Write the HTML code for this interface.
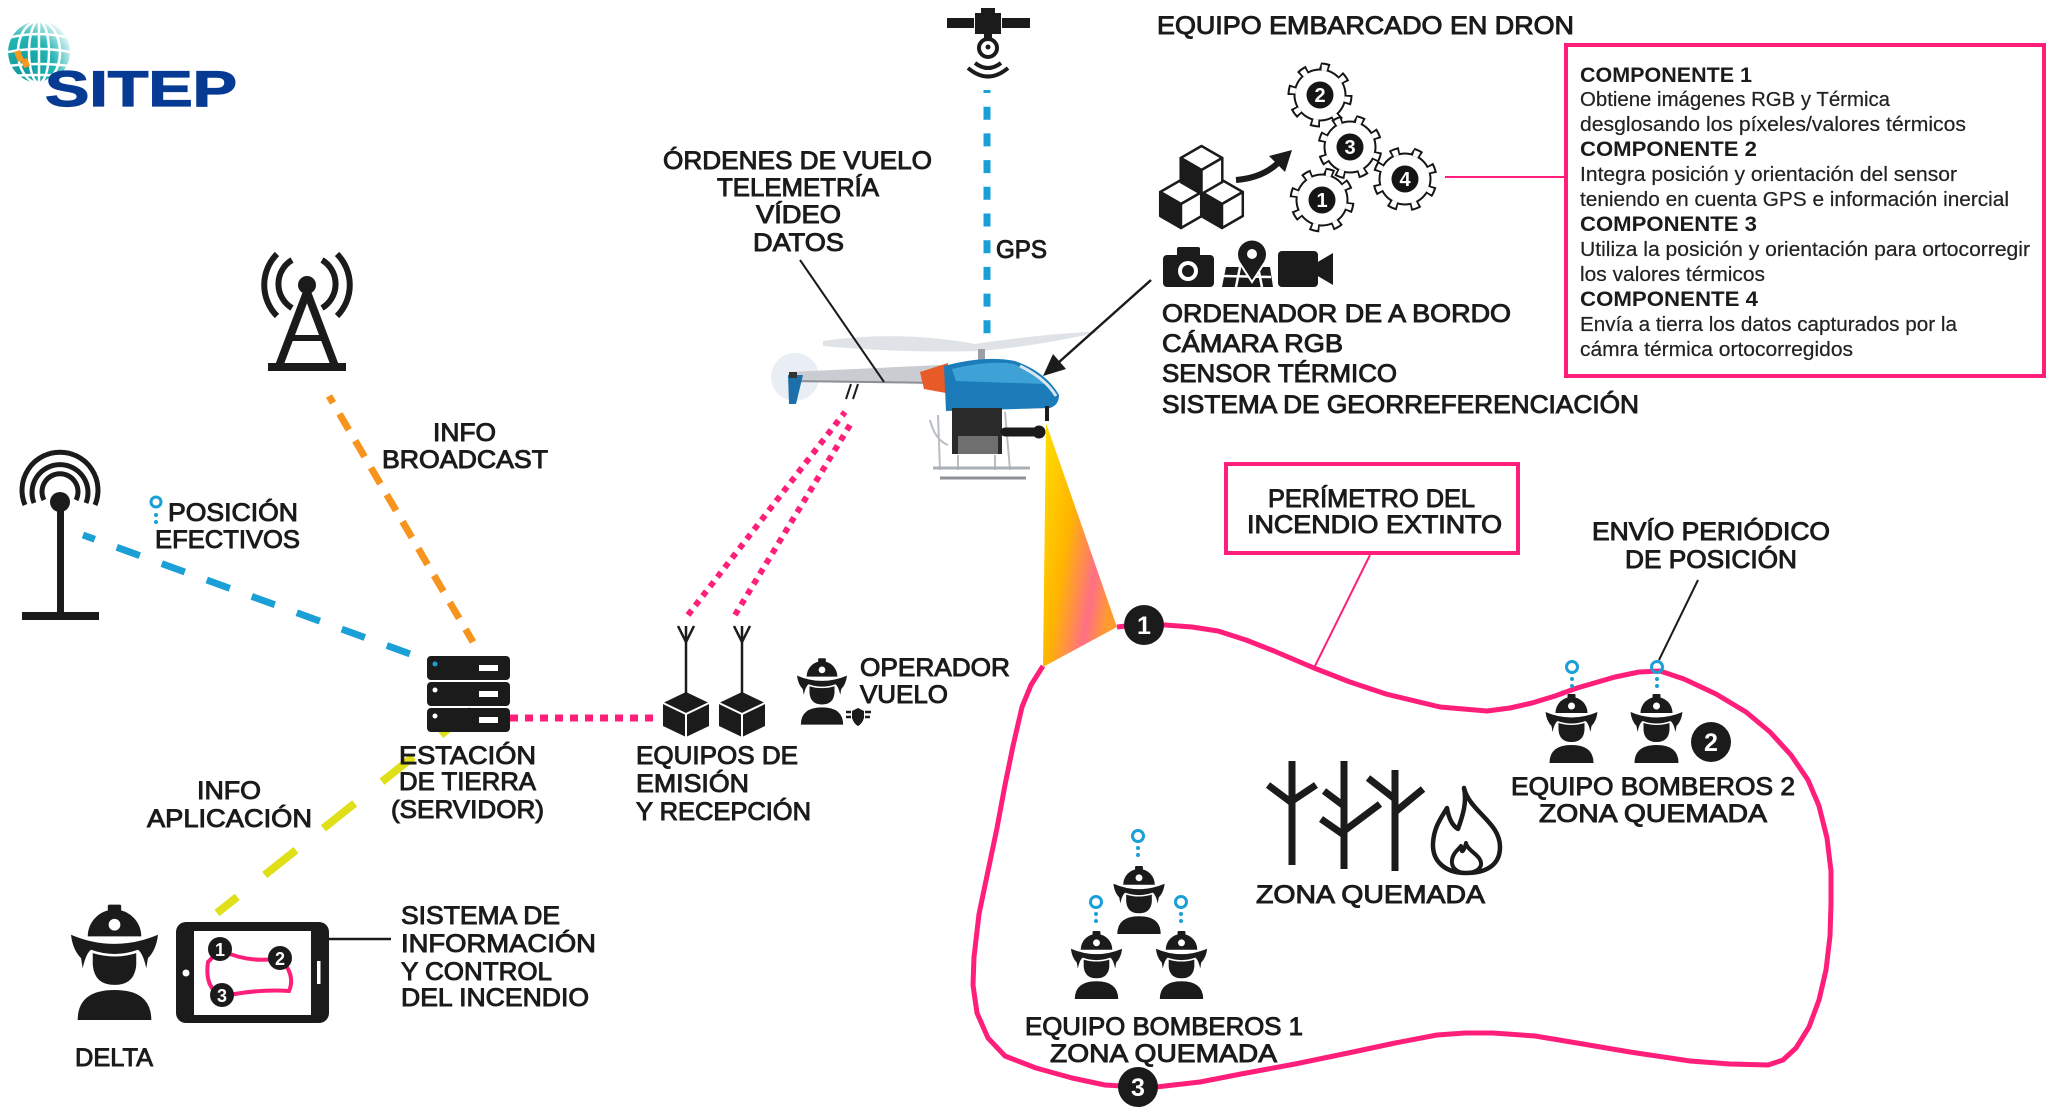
<!DOCTYPE html>
<html><head><meta charset="utf-8"><style>
html,body{margin:0;padding:0;background:#fff;}
svg{display:block;}
.t{font-family:"Liberation Sans",sans-serif;font-size:25px;fill:#1b1b1b;stroke:#1b1b1b;stroke-width:0.95px;}
.b{font-family:"Liberation Sans",sans-serif;font-size:20px;fill:#222;stroke:#222;stroke-width:0.2px;}
.h{font-family:"Liberation Sans",sans-serif;font-size:21px;font-weight:bold;fill:#1b1b1b;}
.n{font-family:"Liberation Sans",sans-serif;font-weight:bold;fill:#fff;text-anchor:middle;}
</style></head><body>
<svg width="2048" height="1116" viewBox="0 0 2048 1116" xmlns="http://www.w3.org/2000/svg">
<defs>
 <symbol id="ff" viewBox="0 0 52 70">
  <g fill="#1b1b1b">
  <rect x="22" y="1" width="8" height="5" rx="1"/>
  <path d="M10 20 A16 16 0 0 1 42 20 Z"/>
  <path d="M0 19 Q26 30 52 19 Q51 28 46 33 L45 39 Q43 30 40 28 Q26 33 12 28 Q9 30 7 39 L6 33 Q1 28 0 19 Z"/>
  <path d="M13 30 Q26 34 39 30 L39 37 Q38 49 26 49 Q14 49 13 37 Z"/>
  <path d="M4 70 Q4 52 26 52 Q48 52 48 70 Z"/>
  </g>
  <circle cx="26" cy="13" r="3.5" fill="#fff"/>
 </symbol>
 <g id="gear">
  <circle r="26.5" fill="#151515"/>
  <circle r="29" fill="none" stroke="#151515" stroke-width="7" pathLength="80" stroke-dasharray="4.2 5.8"/>
  <circle r="24.5" fill="#fff"/>
  <circle r="27.5" fill="none" stroke="#fff" stroke-width="6" pathLength="80" stroke-dasharray="2.6 7.4" stroke-dashoffset="-0.8"/>
 </g>
 <g id="pin">
  <circle cx="0" cy="0" r="5.5" fill="none" stroke="#1a9fd6" stroke-width="3"/>
  <circle cx="0" cy="12" r="2" fill="#1a9fd6"/>
  <circle cx="0" cy="19" r="2" fill="#1a9fd6"/>
 </g>
 <linearGradient id="cone" x1="0" y1="0" x2="1" y2="0.55">
  <stop offset="0" stop-color="#ffe000"/>
  <stop offset="0.45" stop-color="#ffb400"/>
  <stop offset="0.8" stop-color="#ff6f86"/>
  <stop offset="1" stop-color="#ff9a30"/>
 </linearGradient>
 <radialGradient id="gg" cx="0.25" cy="0.75" r="0.9">
  <stop offset="0" stop-color="#0f9a9c"/>
  <stop offset="0.55" stop-color="#24b5b5"/>
  <stop offset="1" stop-color="#ffffff"/>
 </radialGradient>
 <clipPath id="gc"><circle cx="39" cy="52" r="31"/></clipPath>
</defs>

<!-- LOGO -->
<g clip-path="url(#gc)">
 <circle cx="39" cy="52" r="31" fill="url(#gg)"/>
 <g fill="none" stroke="#fff" stroke-width="2.5">
  <ellipse cx="39" cy="52" rx="10" ry="31"/>
  <ellipse cx="39" cy="52" rx="21" ry="31"/>
  <line x1="39" y1="20" x2="39" y2="84"/>
  <path d="M8 38 Q39 30 70 38"/>
  <path d="M8 52 Q39 46 70 52"/>
  <path d="M8 66 Q39 62 70 66"/>
  <path d="M10 76 Q39 74 68 76"/>
 </g>
 <path d="M14 52 L20 50 L24 60 L18 62 Z" fill="#f39a1f"/>
 <path d="M21 60 L27 58 L30 66 L24 68 Z" fill="#f39a1f"/>
</g>
<text x="45" y="106" font-family="Liberation Sans, sans-serif" font-weight="bold" font-size="50" fill="#063a93" stroke="#063a93" stroke-width="1.2" textLength="192" lengthAdjust="spacingAndGlyphs">SITEP</text>

<!-- TOP TOWER -->
<g stroke="#1b1b1b" fill="none" stroke-width="6">
 <path d="M307 292 L279 366 M307 292 L335 366" stroke-width="8"/>
 <line x1="289" y1="338" x2="325" y2="338" stroke-width="6"/>
 <path d="M292 260 A28 28 0 0 0 292 308"/>
 <path d="M322 260 A28 28 0 0 1 322 308"/>
 <path d="M277 254 A44 44 0 0 0 277 316"/>
 <path d="M337 254 A44 44 0 0 1 337 316"/>
</g>
<circle cx="307" cy="285" r="9" fill="#1b1b1b"/>
<rect x="268" y="363" width="78" height="8" fill="#1b1b1b"/>

<!-- LEFT ANTENNA -->
<g stroke="#1b1b1b" fill="none" stroke-width="5">
 <path d="M25 505 A38 38 0 1 1 95 505"/>
 <path d="M34 503 A28 28 0 1 1 86 503"/>
 <path d="M44 500 A18 18 0 1 1 76 500"/>
</g>
<circle cx="60" cy="502" r="10" fill="#1b1b1b"/>
<rect x="57" y="502" width="7" height="112" fill="#1b1b1b"/>
<rect x="22" y="612" width="77" height="8" fill="#1b1b1b"/>

<!-- CONNECTORS -->
<path d="M83 535 L413 655" stroke="#1a9fd6" stroke-width="7" stroke-dasharray="24.5 23.4" stroke-dashoffset="12" fill="none"/>
<path d="M329 396 L473 642" stroke="#f7941d" stroke-width="7" stroke-dasharray="18.5 12.7" stroke-dashoffset="10.5" fill="none"/>
<path d="M472 710 L217 913" stroke="#dfe01a" stroke-width="8" stroke-dasharray="40 35" fill="none"/>
<path d="M510 718 L656 718" stroke="#ff1f7a" stroke-width="7" stroke-dasharray="8 7" fill="none"/>
<path d="M688 615 L845 412" stroke="#ff1f7a" stroke-width="6" stroke-dasharray="6 6" fill="none"/>
<path d="M735 615 L850 425" stroke="#ff1f7a" stroke-width="6" stroke-dasharray="6 6" fill="none"/>
<path d="M987 90 L987 340" stroke="#1a9fd6" stroke-width="7" stroke-dasharray="13 13.7" stroke-dashoffset="10" fill="none"/>

<!-- SERVER -->
<g fill="#1b1b1b">
 <rect x="427" y="656" width="83" height="24" rx="4"/>
 <rect x="427" y="682" width="83" height="24" rx="4"/>
 <rect x="427" y="708" width="83" height="24" rx="4"/>
</g>
<g fill="#fff">
 <rect x="479" y="665" width="19" height="6"/>
 <rect x="479" y="691" width="19" height="6"/>
 <rect x="479" y="717" width="19" height="6"/>
 <circle cx="435" cy="690" r="2.5"/>
 <circle cx="435" cy="716" r="2.5"/>
</g>
<circle cx="435" cy="664" r="2.5" fill="#1a9fd6"/>

<!-- ANTENNA CUBES -->
<g>
 <line x1="686" y1="626" x2="686" y2="694" stroke="#1b1b1b" stroke-width="2.5"/>
 <path d="M678 626 L686 642 L694 626" stroke="#1b1b1b" stroke-width="2.5" fill="none"/>
 <path d="M686 692 L709 703 L709 726 L686 737 L663 726 L663 703 Z" fill="#1b1b1b"/>
 <path d="M663 703 L686 714 L709 703 M686 714 L686 737" stroke="#fff" stroke-width="2" fill="none"/>
 <line x1="742" y1="626" x2="742" y2="694" stroke="#1b1b1b" stroke-width="2.5"/>
 <path d="M734 626 L742 642 L750 626" stroke="#1b1b1b" stroke-width="2.5" fill="none"/>
 <path d="M742 692 L765 703 L765 726 L742 737 L719 726 L719 703 Z" fill="#1b1b1b"/>
 <path d="M719 703 L742 714 L765 703 M742 714 L742 737" stroke="#fff" stroke-width="2" fill="none"/>
</g>

<!-- OPERATOR -->
<use href="#ff" x="797" y="657" width="50" height="68"/>
<path d="M852 711 L858 708 L864 711 L864 718 Q862 724 858 726 Q854 724 852 718 Z" fill="#1b1b1b"/>
<path d="M846 712 L851 712 M846 717 L851 717 M865 712 L871 712 M865 717 L870 717" stroke="#1b1b1b" stroke-width="2.5"/>

<!-- SATELLITE -->
<g fill="#1b1b1b">
 <rect x="981" y="8" width="14" height="6"/>
 <rect x="975" y="13" width="26" height="21"/>
 <rect x="947" y="18" width="27" height="10"/>
 <rect x="1002" y="18" width="28" height="10"/>
 <rect x="984" y="33" width="8" height="5"/>
</g>
<circle cx="988" cy="48" r="9" fill="none" stroke="#1b1b1b" stroke-width="4"/>
<circle cx="988" cy="47" r="2.5" fill="#1b1b1b"/>
<path d="M975 63 Q988 73 1001 63 M968 68 Q988 85 1008 68" stroke="#1b1b1b" stroke-width="4" fill="none"/>

<!-- HELICOPTER -->
<g>
 <path d="M823 341 Q900 330 975 344 Q1040 334 1103 331 Q1040 346 980 351 Q900 353 823 346 Z" fill="#dfe3e8"/>
 <circle cx="795" cy="377" r="24" fill="#e9eef4"/>
 <path d="M790 372 L940 365 L944 384 L790 382 Z" fill="#c9ccd1"/>
 <path d="M790 381 L944 383" stroke="#8c9096" stroke-width="2"/>
 <path d="M788 375 L803 375 L796 404 L789 404 Z" fill="#1c6fa8"/>
 <rect x="789" y="372" width="8" height="6" fill="#333"/>
 <rect x="978" y="349" width="7" height="16" fill="#9aa0a6"/>
 <path d="M920 372 L948 363 L946 393 L924 389 Z" fill="#e85a28"/>
 <path d="M944 366 Q985 355 1015 361 Q1046 372 1059 395 Q1059 405 1050 408 L946 411 Z" fill="#1b7cb9"/>
 <path d="M952 369 Q990 360 1014 364 Q1034 372 1044 384 L956 381 Z" fill="#3fa2d6"/>
 <path d="M1020 366 Q1045 378 1056 396" stroke="#d8e6f0" stroke-width="3" fill="none"/>
 <rect x="952" y="408" width="50" height="46" fill="#2a2a2a"/>
 <rect x="958" y="436" width="40" height="18" fill="#6f6f6f"/>
 <path d="M938 415 L940 470 M1005 412 L1010 470 M930 420 Q935 440 948 445 M958 455 L958 470 M995 455 L995 470" stroke="#b9bec4" stroke-width="2" fill="none"/>
 <path d="M933 468 L1030 468" stroke="#aab0b6" stroke-width="3"/>
 <path d="M940 478 L1026 478" stroke="#8c9096" stroke-width="3"/>
 <line x1="1005" y1="432" x2="1036" y2="432" stroke="#1b1b1b" stroke-width="9" stroke-linecap="round"/>
 <circle cx="1039" cy="432" r="6.5" fill="#1b1b1b"/>
 <rect x="1045" y="406" width="4" height="15" fill="#1b1b1b"/>
 <path d="M851 384 L846 399 M858 384 L853 399" stroke="#1b1b1b" stroke-width="2"/>
</g>

<!-- leader lines -->
<line x1="800" y1="260" x2="884" y2="382" stroke="#1b1b1b" stroke-width="2"/>
<line x1="1151" y1="280" x2="1058" y2="363" stroke="#1b1b1b" stroke-width="2.5"/>
<polygon points="1043,376 1066,369 1053,354" fill="#1b1b1b"/>

<!-- CUBES -->
<g stroke="#1b1b1b" stroke-width="2.5" stroke-linejoin="round">
 <g transform="translate(1181,180)">
  <path d="M0 0 L20.8 12 L0 24 L-20.8 12 Z" fill="#fff"/>
  <path d="M-20.8 12 L0 24 L0 48 L-20.8 36 Z" fill="#1b1b1b"/>
  <path d="M0 24 L20.8 12 L20.8 36 L0 48 Z" fill="#fff"/>
 </g>
 <g transform="translate(1222,180)">
  <path d="M0 0 L20.8 12 L0 24 L-20.8 12 Z" fill="#fff"/>
  <path d="M-20.8 12 L0 24 L0 48 L-20.8 36 Z" fill="#1b1b1b"/>
  <path d="M0 24 L20.8 12 L20.8 36 L0 48 Z" fill="#fff"/>
 </g>
 <g transform="translate(1201.5,146)">
  <path d="M0 0 L20.8 12 L0 24 L-20.8 12 Z" fill="#fff"/>
  <path d="M-20.8 12 L0 24 L0 48 L-20.8 36 Z" fill="#1b1b1b"/>
  <path d="M0 24 L20.8 12 L20.8 36 L0 48 Z" fill="#fff"/>
 </g>
</g>
<path d="M1236 180 Q1262 178 1278 163" stroke="#1b1b1b" stroke-width="6" fill="none"/>
<polygon points="1292,150 1269,156 1285,172" fill="#1b1b1b"/>

<!-- GEARS -->
<use href="#gear" x="1320" y="95"/>
<use href="#gear" x="1350" y="147" transform="rotate(10 1350 147)"/>
<use href="#gear" x="1322" y="200" transform="rotate(5 1322 200)"/>
<use href="#gear" x="1405" y="179" transform="rotate(15 1405 179)"/>
<g fill="#151515">
 <circle cx="1320" cy="95" r="13.5"/><circle cx="1350" cy="147" r="13.5"/>
 <circle cx="1322" cy="200" r="13.5"/><circle cx="1405" cy="179" r="13.5"/>
</g>
<text class="n" x="1320" y="102" font-size="20">2</text>
<text class="n" x="1350" y="154" font-size="20">3</text>
<text class="n" x="1322" y="207" font-size="20">1</text>
<text class="n" x="1405" y="186" font-size="20">4</text>
<line x1="1445" y1="177" x2="1564" y2="177" stroke="#ff1f7a" stroke-width="2"/>

<!-- ICONS camera/map/video -->
<rect x="1163" y="255" width="51" height="32" rx="4" fill="#1b1b1b"/>
<rect x="1177" y="247" width="23" height="10" rx="2" fill="#1b1b1b"/>
<circle cx="1188" cy="271" r="10" fill="#fff"/>
<circle cx="1188" cy="271" r="6" fill="#1b1b1b"/>
<path d="M1226 267 L1270 267 L1273 287 L1222 287 Z" fill="#1b1b1b"/>
<path d="M1224 276 L1271 277 M1240 267 L1236 287 M1258 267 L1262 287" stroke="#fff" stroke-width="2.5"/>
<path d="M1252 282 L1239 262 A15 15 0 1 1 1265 262 Z" fill="#1b1b1b" stroke="#fff" stroke-width="2"/>
<circle cx="1252" cy="254" r="5" fill="#fff"/>
<rect x="1278" y="251" width="40" height="36" rx="4" fill="#1b1b1b"/>
<polygon points="1316,263 1333,253 1333,285 1316,275" fill="#1b1b1b"/>

<!-- COMPONENT BOX -->
<rect x="1566" y="45" width="478" height="331" fill="none" stroke="#ff1f7a" stroke-width="4"/>
<text class="h" x="1580" y="82" textLength="172" lengthAdjust="spacingAndGlyphs">COMPONENTE 1</text>
<text class="b" x="1580" y="106" textLength="310" lengthAdjust="spacingAndGlyphs">Obtiene imágenes RGB y Térmica</text>
<text class="b" x="1580" y="131" textLength="386" lengthAdjust="spacingAndGlyphs">desglosando los píxeles/valores térmicos</text>
<text class="h" x="1580" y="156" textLength="177" lengthAdjust="spacingAndGlyphs">COMPONENTE 2</text>
<text class="b" x="1580" y="181" textLength="377" lengthAdjust="spacingAndGlyphs">Integra posición y orientación del sensor</text>
<text class="b" x="1580" y="206" textLength="429" lengthAdjust="spacingAndGlyphs">teniendo en cuenta GPS e información inercial</text>
<text class="h" x="1580" y="231" textLength="177" lengthAdjust="spacingAndGlyphs">COMPONENTE 3</text>
<text class="b" x="1580" y="256" textLength="450" lengthAdjust="spacingAndGlyphs">Utiliza la posición y orientación para ortocorregir</text>
<text class="b" x="1580" y="281" textLength="185" lengthAdjust="spacingAndGlyphs">los valores térmicos</text>
<text class="h" x="1580" y="306" textLength="178" lengthAdjust="spacingAndGlyphs">COMPONENTE 4</text>
<text class="b" x="1580" y="331" textLength="377" lengthAdjust="spacingAndGlyphs">Envía a tierra los datos capturados por la</text>
<text class="b" x="1580" y="356" textLength="273" lengthAdjust="spacingAndGlyphs">cámra térmica ortocorregidos</text>

<!-- BLOB -->
<path d="M1117 627 L1144 624 L1165 625 L1192 627 L1218 631 L1246 640 L1274 651 L1314 668 L1350 682 L1386 694 L1440 707 L1487 711 L1510 708 L1532 703 L1555 696 L1577 688 L1615 677 L1639 672 L1660 671 L1684 679 L1716 694 L1746 712 L1770 732 L1791 755 L1808 780 L1819 806 L1827 838 L1831 871 L1831 904 L1830 936 L1826 970 L1819 1000 L1809 1027 L1796 1048 L1783 1060 L1768 1065 L1730 1064 L1690 1061 L1630 1052 L1577 1043 L1535 1036 L1493 1033 L1465 1033 L1437 1035 L1395 1043 L1353 1052 L1295 1064 L1241 1074 L1200 1082 L1156 1087 L1138 1087 L1105 1085 L1072 1078 L1036 1068 L1005 1056 L988 1038 L977 1013 L973 985 L974 957 L979 914 L988 871 L997 828 L1005 785 L1013 746 L1022 707 L1031 685 L1043 666" fill="none" stroke="#ff1f7a" stroke-width="5" stroke-linejoin="round"/>
<polygon points="1046,423 1117,627 1043,667" fill="url(#cone)"/>

<!-- PERIMETRO box -->
<rect x="1226" y="464" width="292" height="89" fill="#fff" stroke="#ff1f7a" stroke-width="4"/>
<line x1="1370" y1="555" x2="1314" y2="668" stroke="#ff1f7a" stroke-width="2"/>
<line x1="1698" y1="580" x2="1659" y2="660" stroke="#1b1b1b" stroke-width="2"/>

<!-- nodes -->
<circle cx="1144" cy="625" r="20" fill="#1b1b1b"/>
<text class="n" x="1144" y="634" font-size="25">1</text>
<circle cx="1711" cy="742" r="20" fill="#1b1b1b"/>
<text class="n" x="1711" y="751" font-size="25">2</text>
<circle cx="1138" cy="1087" r="20" fill="#1b1b1b"/>
<text class="n" x="1138" y="1096" font-size="25">3</text>

<!-- firefighters -->
<use href="#pin" x="1572" y="667"/>
<use href="#pin" x="1657" y="667"/>
<use href="#ff" x="1545" y="693" width="53" height="70"/>
<use href="#ff" x="1630" y="693" width="53" height="70"/>
<use href="#pin" x="1138" y="836"/>
<use href="#pin" x="1096" y="902"/>
<use href="#pin" x="1181" y="902"/>
<use href="#ff" x="1113" y="865" width="52" height="69"/>
<use href="#ff" x="1070" y="930" width="53" height="69"/>
<use href="#ff" x="1155" y="930" width="53" height="69"/>

<!-- trees -->
<g stroke="#1b1b1b" stroke-width="7" fill="none">
 <path d="M1292 761 L1292 865 M1268 785 L1292 803 M1316 785 L1292 801"/>
 <path d="M1344 761 L1344 869 M1324 791 L1344 806 M1321 819 L1344 835 M1380 804 L1344 831"/>
 <path d="M1395 770 L1395 871 M1368 778 L1395 799 M1423 789 L1395 812"/>
</g>
<!-- fire -->
<path d="M1464 788 C1470 812 1500 822 1500 847 C1500 866 1485 873 1466 873 C1446 873 1432 862 1433 843 C1434 827 1441 818 1447 808 C1449 820 1453 826 1458 829 C1463 815 1467 802 1464 788 Z" fill="none" stroke="#1b1b1b" stroke-width="4.5" stroke-linejoin="round"/>
<path d="M1466 843 C1468 852 1482 855 1481 865 C1479 872 1470 873 1464 873 C1456 872 1451 867 1452 860 C1453 853 1458 850 1461 846 C1461 852 1463 855 1466 843 Z" fill="none" stroke="#1b1b1b" stroke-width="4" stroke-linejoin="round"/>

<!-- DELTA + TABLET -->
<use href="#ff" x="71" y="902" width="87" height="119"/>
<rect x="176" y="922" width="153" height="101" rx="10" fill="#1b1b1b"/>
<rect x="194" y="931" width="117" height="84" fill="#fff"/>
<circle cx="186" cy="973" r="3.5" fill="#fff"/>
<rect x="317" y="961" width="3.5" height="23" fill="#fff"/>
<path d="M220 950 Q250 964 280 958 Q296 975 289 991 Q258 989 224 996 Q204 990 208 962 Z" fill="none" stroke="#ff1f7a" stroke-width="4"/>
<circle cx="220" cy="949" r="12" fill="#1b1b1b"/>
<circle cx="280" cy="958" r="12" fill="#1b1b1b"/>
<circle cx="222" cy="995" r="12" fill="#1b1b1b"/>
<text class="n" x="220" y="956" font-size="18">1</text>
<text class="n" x="280" y="965" font-size="18">2</text>
<text class="n" x="222" y="1002" font-size="18">3</text>
<line x1="329" y1="939" x2="391" y2="939" stroke="#1b1b1b" stroke-width="2.5"/>

<!-- POSICION pin -->
<circle cx="156" cy="502" r="5" fill="none" stroke="#1a9fd6" stroke-width="3"/>
<circle cx="156" cy="515" r="2" fill="#1a9fd6"/>
<circle cx="156" cy="522" r="2" fill="#1a9fd6"/>

<!-- TEXT LABELS -->
<text class="t" x="1157" y="34" textLength="417" lengthAdjust="spacingAndGlyphs">EQUIPO EMBARCADO EN DRON</text>

<text class="t" x="663" y="169" font-size="24" textLength="269" lengthAdjust="spacingAndGlyphs">ÓRDENES DE VUELO</text>
<text class="t" x="717" y="196" font-size="24" textLength="162" lengthAdjust="spacingAndGlyphs">TELEMETRÍA</text>
<text class="t" x="756" y="223" font-size="24" textLength="85" lengthAdjust="spacingAndGlyphs">VÍDEO</text>
<text class="t" x="753" y="251" font-size="24" textLength="91" lengthAdjust="spacingAndGlyphs">DATOS</text>

<text class="t" x="996" y="258" font-size="24" textLength="51" lengthAdjust="spacingAndGlyphs">GPS</text>

<text class="t" x="1162" y="322" font-size="26" textLength="349" lengthAdjust="spacingAndGlyphs">ORDENADOR DE A BORDO</text>
<text class="t" x="1162" y="352" font-size="26" textLength="181" lengthAdjust="spacingAndGlyphs">CÁMARA RGB</text>
<text class="t" x="1162" y="382" font-size="26" textLength="235" lengthAdjust="spacingAndGlyphs">SENSOR TÉRMICO</text>
<text class="t" x="1162" y="413" font-size="26" textLength="477" lengthAdjust="spacingAndGlyphs">SISTEMA DE GEORREFERENCIACIÓN</text>

<text class="t" x="433" y="441" textLength="63" lengthAdjust="spacingAndGlyphs">INFO</text>
<text class="t" x="382" y="468" textLength="166" lengthAdjust="spacingAndGlyphs">BROADCAST</text>

<text class="t" x="168" y="521" textLength="130" lengthAdjust="spacingAndGlyphs">POSICIÓN</text>
<text class="t" x="155" y="548" textLength="145" lengthAdjust="spacingAndGlyphs">EFECTIVOS</text>

<text class="t" x="399" y="764" textLength="137" lengthAdjust="spacingAndGlyphs">ESTACIÓN</text>
<text class="t" x="399" y="790" textLength="137" lengthAdjust="spacingAndGlyphs">DE TIERRA</text>
<text class="t" x="391" y="818" textLength="153" lengthAdjust="spacingAndGlyphs">(SERVIDOR)</text>

<text class="t" x="636" y="764" textLength="162" lengthAdjust="spacingAndGlyphs">EQUIPOS DE</text>
<text class="t" x="636" y="792" textLength="113" lengthAdjust="spacingAndGlyphs">EMISIÓN</text>
<text class="t" x="636" y="820" textLength="175" lengthAdjust="spacingAndGlyphs">Y RECEPCIÓN</text>

<text class="t" x="860" y="676" textLength="150" lengthAdjust="spacingAndGlyphs">OPERADOR</text>
<text class="t" x="860" y="703" textLength="88" lengthAdjust="spacingAndGlyphs">VUELO</text>

<text class="t" x="197" y="799" textLength="64" lengthAdjust="spacingAndGlyphs">INFO</text>
<text class="t" x="147" y="827" textLength="165" lengthAdjust="spacingAndGlyphs">APLICACIÓN</text>

<text class="t" x="401" y="924" textLength="159" lengthAdjust="spacingAndGlyphs">SISTEMA DE</text>
<text class="t" x="401" y="952" textLength="195" lengthAdjust="spacingAndGlyphs">INFORMACIÓN</text>
<text class="t" x="401" y="980" textLength="151" lengthAdjust="spacingAndGlyphs">Y CONTROL</text>
<text class="t" x="401" y="1006" textLength="188" lengthAdjust="spacingAndGlyphs">DEL INCENDIO</text>

<text class="t" x="75" y="1066" textLength="78" lengthAdjust="spacingAndGlyphs">DELTA</text>

<text class="t" x="1268" y="507" textLength="207" lengthAdjust="spacingAndGlyphs">PERÍMETRO DEL</text>
<text class="t" x="1247" y="533" textLength="255" lengthAdjust="spacingAndGlyphs">INCENDIO EXTINTO</text>

<text class="t" x="1592" y="540" textLength="238" lengthAdjust="spacingAndGlyphs">ENVÍO PERIÓDICO</text>
<text class="t" x="1625" y="568" textLength="172" lengthAdjust="spacingAndGlyphs">DE POSICIÓN</text>

<text class="t" x="1511" y="795" textLength="284" lengthAdjust="spacingAndGlyphs">EQUIPO BOMBEROS 2</text>
<text class="t" x="1539" y="822" textLength="228" lengthAdjust="spacingAndGlyphs">ZONA QUEMADA</text>

<text class="t" x="1256" y="903" textLength="229" lengthAdjust="spacingAndGlyphs">ZONA QUEMADA</text>

<text class="t" x="1025" y="1035" textLength="278" lengthAdjust="spacingAndGlyphs">EQUIPO BOMBEROS 1</text>
<text class="t" x="1050" y="1062" textLength="227" lengthAdjust="spacingAndGlyphs">ZONA QUEMADA</text>
</svg>
</body></html>
